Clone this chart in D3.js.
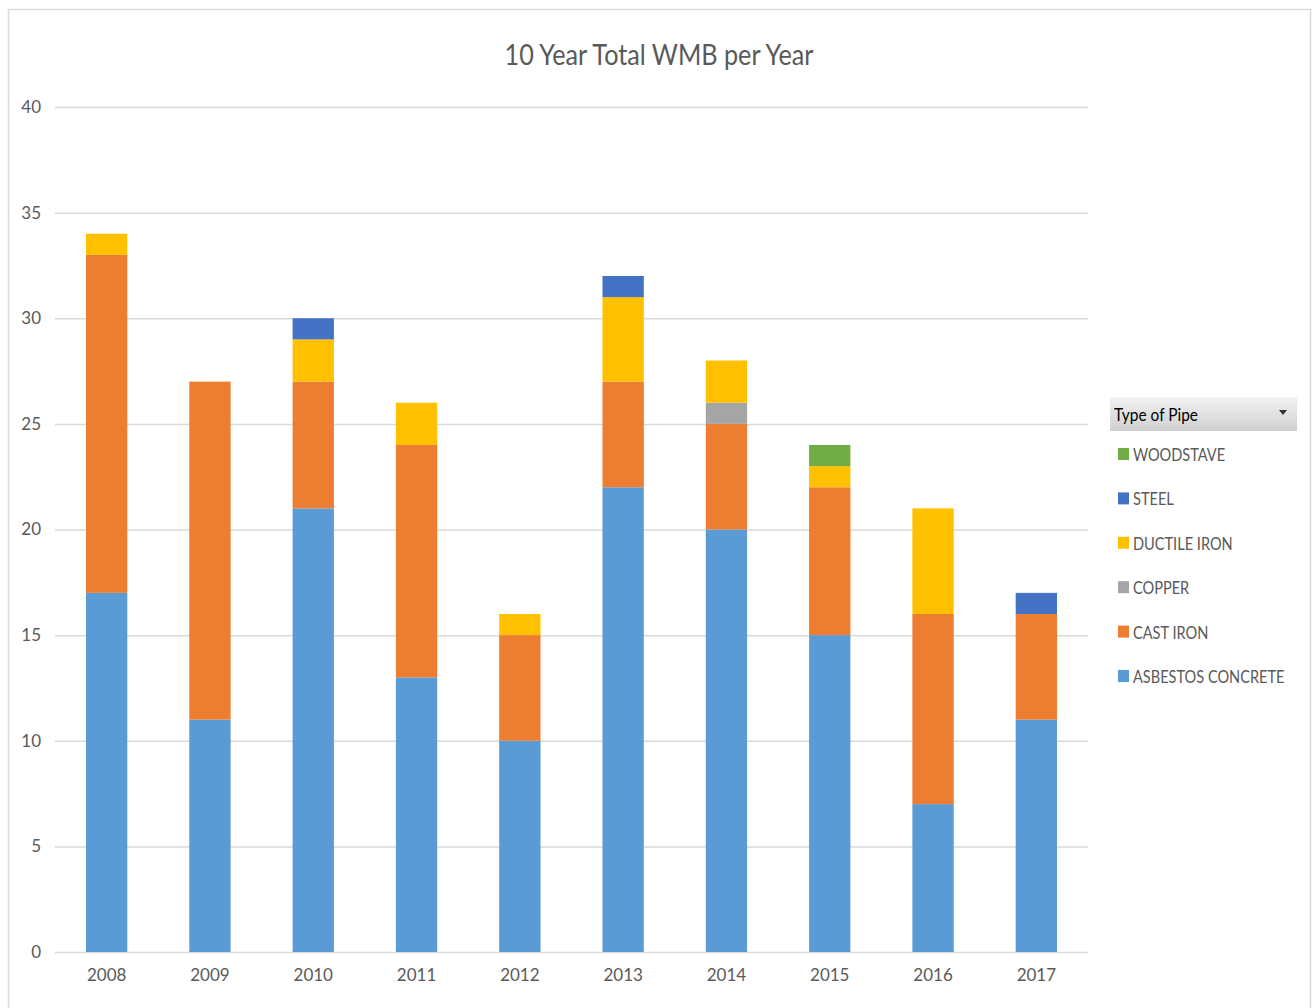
<!DOCTYPE html>
<html>
<head>
<meta charset="utf-8">
<script src="https://cdn.jsdelivr.net/npm/d3@7"></script>
<style>
  body { margin: 0; background: #fff; }
  text { font-family: Lato, "Open Sans", sans-serif; fill: #595959; }
</style>
</head>
<body>
<svg id="chart"></svg>
<script>
var width = 1313,
  height = 1008;

// data
var years = ['2008', '2009', '2010', '2011', '2012', '2013', '2014', '2015', '2016', '2017'];
var pipeTypes = ['ASBESTOS CONCRETE', 'CAST IRON', 'COPPER', 'DUCTILE IRON', 'STEEL', 'WOODSTAVE'];
var asbestosConcrete = [17, 11, 21, 13, 10, 22, 20, 15, 7, 11];
var castIron = [16, 16, 6, 11, 5, 5, 5, 7, 9, 5];
var copper = [0, 0, 0, 0, 0, 0, 1, 0, 0, 0];
var ductileIron = [1, 0, 2, 2, 1, 4, 2, 1, 5, 0];
var steel = [0, 0, 1, 0, 0, 1, 0, 0, 0, 1];
var woodstave = [0, 0, 0, 0, 0, 0, 0, 1, 0, 0];
var yTicks = [0, 5, 10, 15, 20, 25, 30, 35, 40];

var colors = ['#5b9bd5', '#ed7d31', '#a5a5a5', '#ffc000', '#4472c4', '#70ad47'];

var series = [asbestosConcrete, castIron, copper, ductileIron, steel, woodstave];
var rows = years.map(function(y, i) {
  var row = { year: y };
  pipeTypes.forEach(function(p, j) { row[p] = series[j][i]; });
  return row;
});

var stacked = d3.stack().keys(pipeTypes)(rows);

var svg = d3.select('#chart')
  .attr('width', width)
  .attr('height', height);

// chart border
svg.append('rect')
  .attr('x', 8.5)
  .attr('y', 9.5)
  .attr('width', 1302)
  .attr('height', 1010)
  .attr('fill', '#fff')
  .attr('stroke', '#d9d9d9')
  .attr('stroke-width', 1.5);

var x = d3.scaleBand()
  .domain(years)
  .range([55, 1088])
  .paddingInner(0.6)
  .paddingOuter(0.3);

var y = d3.scaleLinear()
  .domain([0, 40])
  .range([952, 107]);

// gridlines
svg.append('g')
  .selectAll('line')
  .data(yTicks)
  .enter().append('line')
  .attr('x1', 55)
  .attr('x2', 1088)
  .attr('y1', function(d) { return y(d) + 0.5; })
  .attr('y2', function(d) { return y(d) + 0.5; })
  .attr('stroke', '#d9d9d9')
  .attr('stroke-width', 1.5);

// y axis labels
var yAxis = svg.append('g')
  .attr('transform', 'translate(41,0)')
  .call(d3.axisLeft(y).tickValues(yTicks).tickSize(0).tickPadding(0));
yAxis.select('.domain').remove();
yAxis.selectAll('text')
  .attr('font-size', 17)
  .attr('font-family', null)
  .style('fill', '#595959');

// x axis labels
var xAxis = svg.append('g')
  .attr('transform', 'translate(0,962)')
  .call(d3.axisBottom(x).tickSize(0).tickPadding(7));
xAxis.select('.domain').remove();
xAxis.selectAll('text')
  .attr('font-size', 17)
  .attr('font-family', null)
  .style('fill', '#595959');

// stacked bars
svg.append('g')
  .selectAll('g')
  .data(stacked)
  .enter().append('g')
  .attr('fill', function(d, i) { return colors[i]; })
  .selectAll('rect')
  .data(function(d) { return d; })
  .enter().append('rect')
  .attr('x', function(d) { return x(d.data.year); })
  .attr('y', function(d) { return y(d[1]); })
  .attr('width', x.bandwidth())
  .attr('height', function(d) { return y(d[0]) - y(d[1]); });

// title (the source font is narrower, so squeeze horizontally)
svg.append('text')
  .attr('transform', 'translate(659,65) scale(0.9,1)')
  .attr('text-anchor', 'middle')
  .attr('font-size', 28)
  .text('10 Year Total WMB per Year');

// legend header (pivot field button)
var defs = svg.append('defs');
var grad = defs.append('linearGradient')
  .attr('id', 'hdr')
  .attr('x1', 0).attr('y1', 0).attr('x2', 0).attr('y2', 1);
grad.append('stop').attr('offset', '0%').attr('stop-color', '#f2f2f2');
grad.append('stop').attr('offset', '100%').attr('stop-color', '#d0d0d0');

var legend = svg.append('g');
legend.append('rect')
  .attr('x', 1110)
  .attr('y', 397)
  .attr('width', 187)
  .attr('height', 34)
  .attr('fill', 'url(#hdr)');
legend.append('text')
  .attr('transform', 'translate(1114,421) scale(0.86,1)')
  .attr('font-size', 18)
  .style('fill', '#000')
  .text('Type of Pipe');
legend.append('path')
  .attr('d', 'M1279,410 L1287,410 L1283,415 Z')
  .attr('fill', '#333');

var legendOrder = pipeTypes.slice().reverse();
var items = legend.selectAll('.item')
  .data(legendOrder)
  .enter().append('g')
  .attr('class', 'item')
  .attr('transform', function(d, i) { return 'translate(1118,' + (454 + i * 44.4) + ')'; });

items.append('rect')
  .attr('x', 0)
  .attr('y', -6)
  .attr('width', 11)
  .attr('height', 12)
  .attr('fill', function(d) { return colors[pipeTypes.indexOf(d)]; });

items.append('text')
  .attr('transform', 'translate(15,7) scale(0.81,1)')
  .attr('font-size', 18)
  .text(function(d) { return d; });
</script>
</body>
</html>
